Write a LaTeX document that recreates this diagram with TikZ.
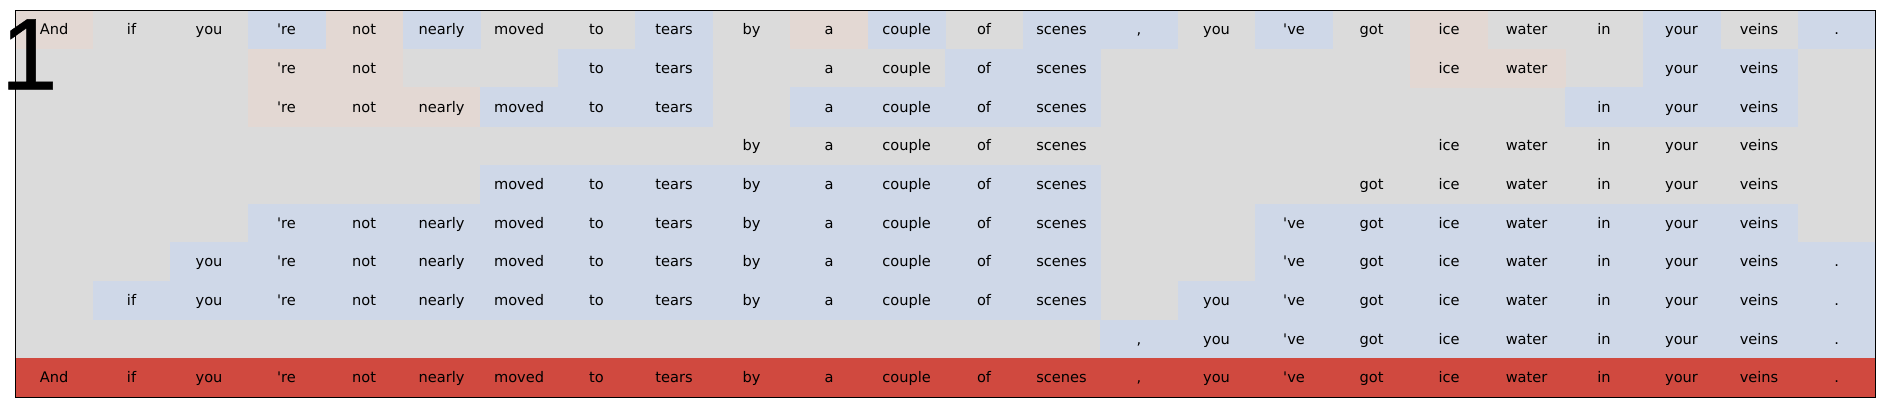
\documentclass[tikz,border=0pt]{standalone}
\usepackage{fontspec}
\setmainfont{DejaVu Sans}[Ligatures=TeXOff]
\newfontfamily\bigfont{Liberation Sans}[FakeBold=0.45]
\definecolor{cG}{RGB}{219,219,219}
\definecolor{cB}{RGB}{207,216,232}
\definecolor{cP}{RGB}{227,216,211}
\definecolor{cR}{RGB}{208,73,63}
\expandafter\def\csname wd0\endcsname{And}
\expandafter\def\csname wd1\endcsname{if}
\expandafter\def\csname wd2\endcsname{you}
\expandafter\def\csname wd3\endcsname{'re}
\expandafter\def\csname wd4\endcsname{not}
\expandafter\def\csname wd5\endcsname{nearly}
\expandafter\def\csname wd6\endcsname{moved}
\expandafter\def\csname wd7\endcsname{to}
\expandafter\def\csname wd8\endcsname{tears}
\expandafter\def\csname wd9\endcsname{by}
\expandafter\def\csname wd10\endcsname{a}
\expandafter\def\csname wd11\endcsname{couple}
\expandafter\def\csname wd12\endcsname{of}
\expandafter\def\csname wd13\endcsname{scenes}
\expandafter\def\csname wd14\endcsname{,}
\expandafter\def\csname wd15\endcsname{you}
\expandafter\def\csname wd16\endcsname{'ve}
\expandafter\def\csname wd17\endcsname{got}
\expandafter\def\csname wd18\endcsname{ice}
\expandafter\def\csname wd19\endcsname{water}
\expandafter\def\csname wd20\endcsname{in}
\expandafter\def\csname wd21\endcsname{your}
\expandafter\def\csname wd22\endcsname{veins}
\expandafter\def\csname wd23\endcsname{.}
% \cells{row}{colour}{columns}
\newcommand\cells[3]{%
  \foreach \c in {#3}{%
    \fill[c#2] ({15.3+77.5*\c-0.3},{10.3+38.7*#1-0.3}) rectangle ++(78.1,39.3);
  }%
}
\newcommand\words[2]{%
  \foreach \c in {#2}{%
    \node[wordnode] (w-#1-\c) at ({15.3+77.5*(\c+0.5)},{10.3+38.7*(#1+0.5)+5}) {\csname wd\c\endcsname};
  }%
}
\begin{document}
\begin{tikzpicture}[x=0.5pt,y=-0.5pt,
  wordnode/.style={anchor=base,inner sep=0pt,text=black,font=\fontsize{7.3}{8}\selectfont},
  framebox/.style={draw=black,line width=0.65pt},
  bignum/.style={anchor=base west,inner sep=0pt,font=\bigfont\fontsize{51}{51}\selectfont}]
\fill[white] (0,0) rectangle (1884,412);
\useasboundingbox (0,0) rectangle (1884,412);
\fill[cG] (15.3,10.3) rectangle (1875.3,397.3);
% row 0
\cells{0}{P}{0,4,10,18}
\cells{0}{B}{3,5,8,11,13,14,16,21,23}
% row 1
\cells{1}{P}{3,4,18,19}
\cells{1}{B}{7,8,12,13,21,22}
% row 2
\cells{2}{P}{3,4,5}
\cells{2}{B}{6,7,8,10,11,12,13,20,21,22}
% row 4
\cells{4}{B}{6,...,13}
% row 5
\cells{5}{B}{3,...,13}
\cells{5}{B}{16,...,22}
% row 6
\cells{6}{B}{2,...,13}
\cells{6}{B}{16,...,23}
% row 7
\cells{7}{B}{1,...,13}
\cells{7}{B}{15,...,23}
% row 8
\cells{8}{B}{14,...,23}
% row 9
\cells{9}{R}{0,...,23}
\draw[framebox] (15.3,10.3) rectangle (1875.3,397.3);
% words
\words{0}{0,...,23}
\words{1}{3,4,7,8,10,11,12,13,18,19,21,22}
\words{2}{3,4,5,6,7,8,10,11,12,13,20,21,22}
\words{3}{9,10,11,12,13,18,19,20,21,22}
\words{4}{6,7,8,9,10,11,12,13,17,18,19,20,21,22}
\words{5}{3,...,13}
\words{5}{16,...,22}
\words{6}{2,...,13}
\words{6}{16,...,23}
\words{7}{1,...,13}
\words{7}{15,...,23}
\words{8}{14,...,23}
\words{9}{0,...,23}
\node[bignum] (num) at (0.5,89.5) {1};
\end{tikzpicture}
\end{document}
